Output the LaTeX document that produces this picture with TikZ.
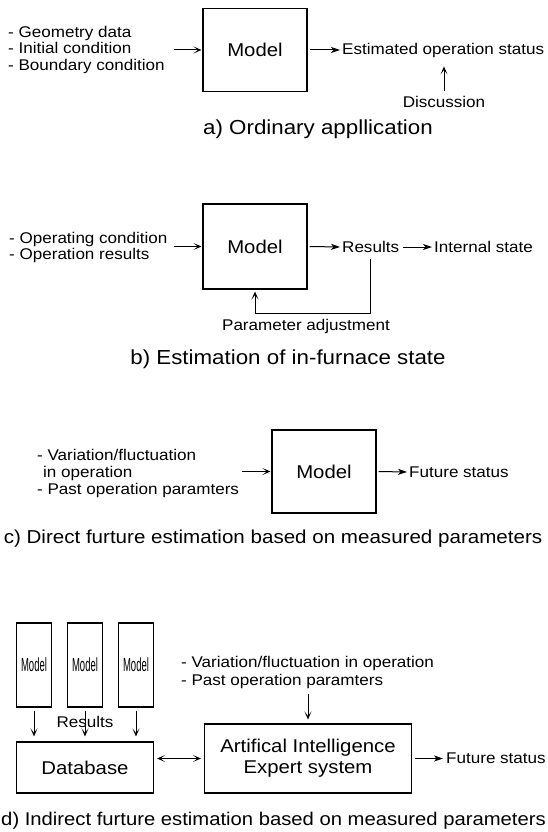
\documentclass[tikz,border=0pt]{standalone}
\usepackage{fontspec}
\setmainfont{Liberation Sans}[FakeStretch=1.1]
\newfontfamily\condensedsf{Liberation Sans}[FakeStretch=0.5]
\usetikzlibrary{arrows.meta}

\tikzset{
  box/.style={draw, line width=1.2pt, inner sep=0pt, font=\fontsize{18.5}{21}\selectfont},
  bigbox/.style={box, minimum width=104pt, minimum height=83pt},
  thinbox/.style={box, minimum width=35pt, minimum height=84pt, font={\condensedsf\fontsize{19}{20}\selectfont}},
  lbl/.style={inner sep=0pt, font=\fontsize{15.5}{16.5}\selectfont},
  list/.style={lbl, align=left, anchor=north west},
  capbig/.style={inner sep=0pt, anchor=base, font=\fontsize{20.3}{22}\selectfont},
  capsmall/.style={inner sep=0pt, anchor=base, font=\fontsize{18.7}{22}\selectfont},
  tip/.tip={Stealth[length=9pt,width=6pt,inset=2.5pt]},
  barb/.tip={Stealth[length=8pt,width=7pt,inset=4.5pt]},
  arr/.style={-tip, line width=1pt},
  barr/.style={-barb, line width=1pt},
  darr/.style={barb-barb, line width=1pt},
}

\begin{document}
\begin{tikzpicture}[x=1pt,y=-1pt]
\useasboundingbox (0,0) rectangle (547,832);

% ---------- a) ordinary application ----------
\node[bigbox] (modA) at (255,50) {Model};
\node[list] (inA) at (8,25.7) {- Geometry data\\- Initial condition\\- Boundary condition};
\node[lbl, anchor=west] (outA) at (342,50) {Estimated operation status};
\node[lbl] (discA) at (444,102) {Discussion};
\node[capbig] (capA) at (318,135) {a) Ordinary appllication};
\draw[barr, shorten <=9pt, shorten >=1pt] (inA.east |- modA.west) -- (modA.west);
\draw[arr, shorten <=2pt, shorten >=2pt] (modA.east) -- (outA.west);
\draw[barr, shorten <=5pt, shorten >=9pt] (discA.north) -- (discA.north |- outA.south);

% ---------- b) estimation of in-furnace state ----------
\node[bigbox, minimum height=85pt] (modB) at (255,246.5) {Model};
\node[list] (inB) at (9,231.7) {- Operating condition\\- Operation results};
\node[lbl, anchor=west] (resB) at (342,247) {Results};
\node[lbl, anchor=west] (intB) at (434,247) {Internal state};
\node[lbl] (parB) at (306,326) {Parameter adjustment};
\node[capbig] (capB) at (288,364) {b) Estimation of in-furnace state};
\draw[barr, shorten <=6pt, shorten >=1pt] (inB.east |- modB.west) -- (modB.west);
\draw[arr, shorten <=2pt, shorten >=2pt] (modB.east) -- (resB.west);
\draw[arr, shorten <=4pt, shorten >=2pt] (resB.east) -- (intB.west);
\draw[barr, shorten <=6pt, shorten >=2pt] (resB.south) |- ([yshift=-24pt]modB.south) -- (modB.south);

% ---------- c) direct future estimation ----------
\node[bigbox] (modC) at (324,471.5) {Model};
\node[list, font=\fontsize{15.5}{17}\selectfont] (inC) at (37,448.7)
  {- Variation/fluctuation\\\hspace*{6pt}in operation\\- Past operation paramters};
\node[lbl, anchor=west] (futC) at (409,472) {Future status};
\node[capsmall] (capC) at (273,543) {c) Direct furture estimation based on measured parameters};
\draw[barr, shorten <=3pt, shorten >=1pt] (inC.east |- modC.west) -- (modC.west);
\draw[arr, shorten <=2pt, shorten >=2pt] (modC.east) -- (futC.west);

% ---------- d) indirect future estimation ----------
\node[thinbox] (m1) at (34,665) {Model};
\node[thinbox] (m2) at (85,665) {Model};
\node[thinbox] (m3) at (136,665) {Model};
\node[box, minimum width=137pt, minimum height=51pt] (db) at (85,767.5) {Database};
\node[box, minimum width=207pt, minimum height=69pt, align=center] (ai) at (308,758.5)
  {Artifical Intelligence\\Expert system};
\node[lbl] (resD) at (85,722) {Results};
\node[list, font=\fontsize{15.5}{18}\selectfont] (inD) at (181,655.7)
  {- Variation/fluctuation in operation\\- Past operation paramters};
\node[lbl, anchor=west] (futD) at (446,758.5) {Future status};
\node[capsmall, font=\fontsize{18.4}{22}\selectfont] (capD) at (273.5,825)
  {d) Indirect furture estimation based on measured parameters};
\foreach \m in {m1,m2,m3}
  \draw[barr, shorten <=3pt, shorten >=5pt] (\m.south) -- (\m.south |- db.north);
\draw[darr, shorten <=3pt, shorten >=3pt] (db.east |- ai.west) -- (ai.west);
\draw[barr, shorten <=5pt, shorten >=4pt] (inD.south -| ai.north) -- (ai.north);
\draw[arr, shorten <=3pt, shorten >=3pt] (ai.east) -- (futD.west);

\end{tikzpicture}
\end{document}
